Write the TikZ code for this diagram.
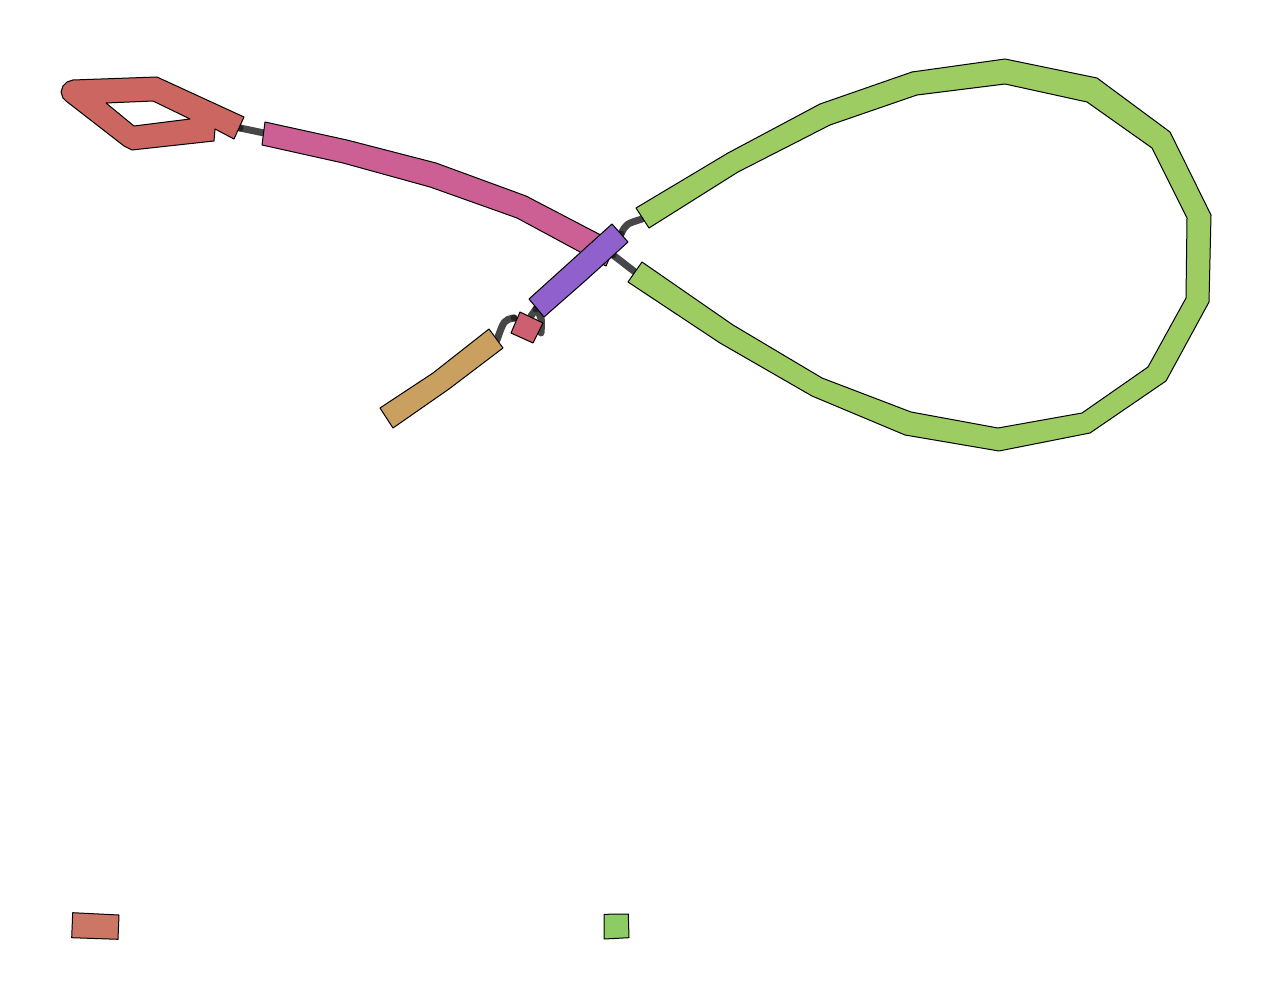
\documentclass[tikz,border=0pt]{standalone}
\begin{document}
\begin{tikzpicture}[x=1pt,y=-1pt,
  seg/.style={draw=black,line width=1pt,line join=round},
  link/.style={draw=black!72,line width=7pt,line cap=round},
  enddot/.style={fill=black!85},
]
\definecolor{cRed}{RGB}{204,102,96}
\definecolor{cPink}{RGB}{204,95,148}
\definecolor{cPurple}{RGB}{144,96,204}
\definecolor{cGreen}{RGB}{157,204,98}
\definecolor{cTan}{RGB}{201,160,96}
\definecolor{cSRed}{RGB}{204,95,112}
\definecolor{cLRed}{RGB}{204,119,102}
\definecolor{cLGreen}{RGB}{140,204,98}
\useasboundingbox (0,0) rectangle (1272,1000);
% connector end points
\coordinate (redEnd) at (240,128);
\coordinate (pinkStart) at (264,133);
\coordinate (purpTop) at (621,234);
\coordinate (greenA) at (642,219);
\coordinate (purpMid) at (613,255);
\coordinate (greenB) at (635,272);
\coordinate (purpBot) at (536,309);
\coordinate (sredTop) at (531,316);
\coordinate (sredL) at (514,318);
\coordinate (tanEnd) at (497,340);
\coordinate (sredR) at (541,333);
% connectors
\draw[link] (redEnd) -- (pinkStart);
\draw[link] (purpTop) .. controls (626,224) .. (greenA);
\draw[link] (purpMid) -- (greenB);
\draw[link] (purpBot) -- (sredTop);
\draw[link] (sredL) .. controls (504,320) .. (tanEnd);
\draw[link] (purpBot) .. controls (542,318) .. (sredR);
\foreach \p in {redEnd,purpTop,purpMid,purpBot,sredL}
  \fill[enddot] (\p) circle (3.5pt);
% red loop node
\path[seg,fill=cRed,even odd rule] (244,117) -- (157,77) -- (73,80) -- (67,82) -- (63,86) -- (61,92) -- (63,98) -- (66,101)
  -- (124,146) -- (132,150) -- (214,141) -- (215,129) -- (234,139) -- cycle
  (106,103) -- (153,101) -- (190,119) -- (134,126) -- cycle;
% pink node
\path[seg,fill=cPink] (265,122) -- (347,140) -- (436,163) -- (526,196) -- (616,243) -- (606,266)
  -- (517,218) -- (430,187) -- (343,163) -- (262,145) -- cycle;
% green loop node
\path[seg,fill=cGreen] (636,208) -- (728,153) -- (820,104) -- (912,72) -- (1005,59) -- (1097,78)
  -- (1170,132) -- (1211,215) -- (1209,302) -- (1166,381) -- (1090,433) -- (999,451) -- (905,435)
  -- (812,396) -- (720,343) -- (628,282) -- (642,262) -- (733,325) -- (822,378) -- (911,412)
  -- (998,428) -- (1082,413) -- (1148,367) -- (1186,298) -- (1187,218) -- (1152,148)
  -- (1087,102) -- (1005,84) -- (917,95) -- (830,125) -- (738,172) -- (649,228) -- cycle;
% purple node
\path[seg,fill=cPurple] (529,299) -- (612,224) -- (628,242) -- (585,281) -- (544,317) -- cycle;
% small red node
\path[seg,fill=cSRed] (520,312) -- (543,323) -- (533,343) -- (511,333) -- cycle;
% tan node
\path[seg,fill=cTan] (380,408) -- (433,373) -- (489,329) -- (503,348) -- (449,389) -- (393,428) -- cycle;
% legend
\path[seg,fill=cLRed] (72.7,912.7) -- (119,915) -- (118,939.3) -- (71.7,937.7) -- cycle;
\path[seg,fill=cLGreen] (604,914.3) -- (628.3,914) -- (629,937.7) -- (604,939) -- cycle;
\end{tikzpicture}
\end{document}
